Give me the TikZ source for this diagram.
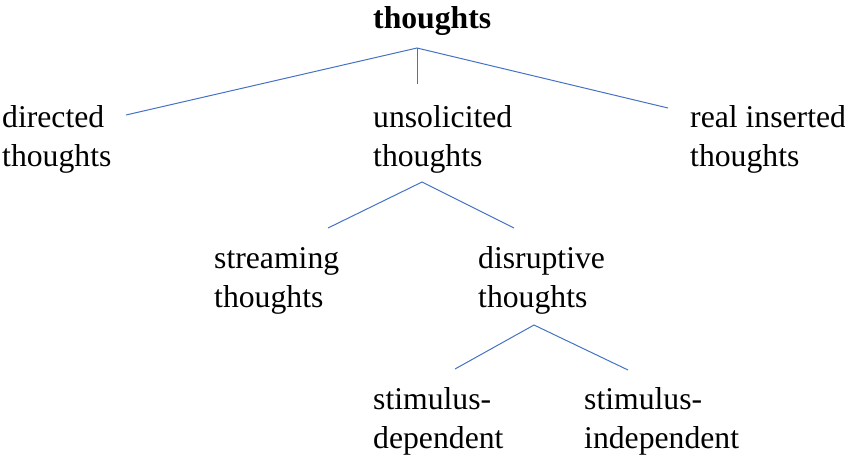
\documentclass[tikz,border=0pt]{standalone}
\usepackage{fontspec}
\setmainfont{Liberation Serif}
\usetikzlibrary{positioning}
\definecolor{linkblue}{HTML}{4472C4}
\tikzset{
  term/.style={
    anchor=base west,
    inner sep=0pt,
    align=left,
    font=\fontsize{31.7}{39}\selectfont,
  },
  branch/.style={
    draw=linkblue,
    line width=1pt,
  }
}

\begin{document}
\begin{tikzpicture}[x=1pt, y=-1pt]
        \useasboundingbox (0,0) rectangle (845,458);

        % base anchor sits on the last line
        \node [term, font=\fontsize{31.7}{39}\selectfont\bfseries] (root) at (373,28) {thoughts};
        \node [term] (dir) at (2,166) {directed\\thoughts};
        \node [term] (uns) at (373,166) {unsolicited\\thoughts};
        \node [term] (real) at (690,166) {real inserted\\thoughts};
        \node [term] (str) at (214,307) {streaming\\thoughts};
        \node [term] (dis) at (478,307) {disruptive\\thoughts};
        \node [term] (dep) at (373,448) {stimulus-\\dependent};
        \node [term] (ind) at (584,448) {stimulus-\\independent};

        \coordinate (j root) at (417,48);
        \coordinate (e uns) at (417,84);
        \coordinate (e dir) at (126,115);
        \coordinate (e real) at (668,108);
        \coordinate (j uns) at (422,182);
        \coordinate (e str) at (328,228);
        \coordinate (e dis) at (514,228);
        \coordinate (j dis) at (534,325);
        \coordinate (e dep) at (455,369);
        \coordinate (e ind) at (628,370);

        \draw [branch] (e dir) -- (j root) -- (e real);
        \draw [branch] (j root) -- (e uns);
        \draw [branch] (e str) -- (j uns) -- (e dis);
        \draw [branch] (e dep) -- (j dis) -- (e ind);
      \end{tikzpicture}
\end{document}
